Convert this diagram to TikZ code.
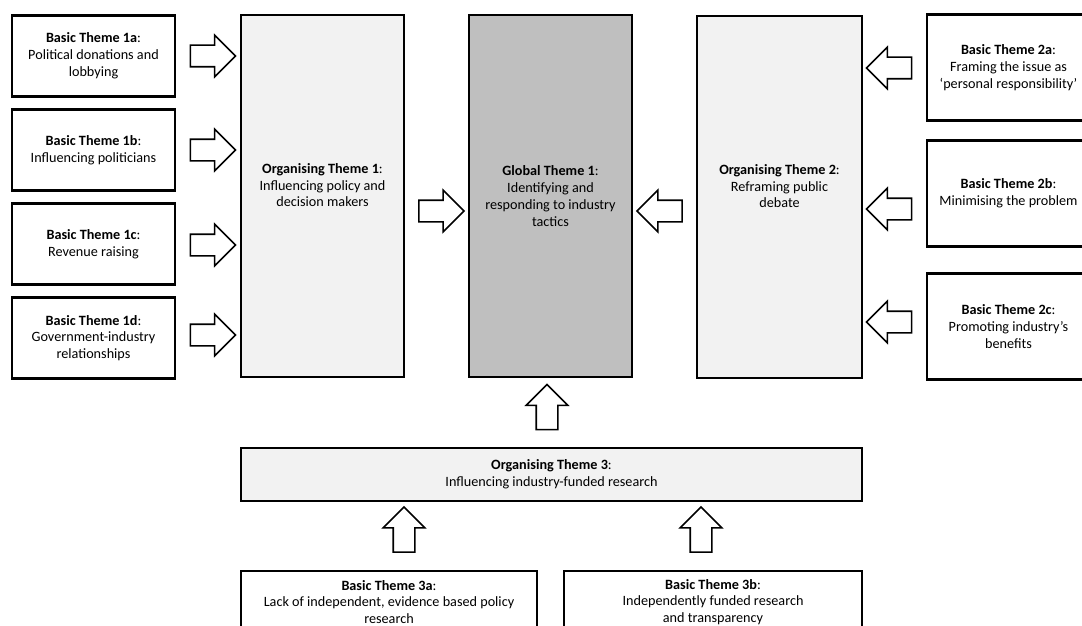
\documentclass[tikz,border=0pt]{standalone}
\usepackage{fontspec}
\setmainfont{Carlito}
\usepackage{xcolor}
\usetikzlibrary{shapes.arrows}

\definecolor{orgfill}{HTML}{F2F2F2}
\definecolor{globalfill}{HTML}{BFBFBF}

\begin{document}
\begin{tikzpicture}[
  x=1pt, y=1pt,
  themebox/.style={draw, line width=2.2pt, align=center, inner sep=2pt,
    font=\fontsize{14.2}{16.8}\selectfont},
  basicbox/.style={themebox, minimum width=163pt, minimum height=81pt},
  ]
  \tikzset{%
    orgbox/.style={
      themebox,
      fill=orgfill,
      minimum width=163pt,
      minimum height=362pt,
    },
    globalbox/.style={
      orgbox,
      fill=globalfill,
    },
    bigarrow/.style={
      draw, line width=1.6pt, fill=white,
      shape=single arrow,
      single arrow head extend=10pt,
      single arrow tip angle=90,
      inner sep=10pt,
      minimum height=45pt,
    },
  }
  \useasboundingbox (0,0) rectangle (1082,-626);
  %Nodes
  \node[basicbox](b1a) at (93.5,-56) {\textbf{Basic Theme 1a}:\\Political donations and\\lobbying};
  \node[basicbox](b1b) at (93.5,-150) {\textbf{Basic Theme 1b}:\\Influencing politicians};
  \node[basicbox](b1c) at (93.5,-244) {\textbf{Basic Theme 1c}:\\Revenue raising};
  \node[basicbox](b1d) at (93.5,-338) {\textbf{Basic Theme 1d}:\\Government-industry\\relationships};
  % a trailing strut lifts the text a little, as in the reference
  \node[orgbox](o1) at (322.5,-196) {\textbf{Organising Theme 1}:\\Influencing policy and\\decision makers\\\strut};
  \node[globalbox](g1) at (550.5,-196) {\textbf{Global Theme 1}:\\Identifying and\\responding to industry\\tactics};
  \node[orgbox, minimum width=165pt](o2) at (779.5,-197) {\textbf{Organising Theme 2}:\\Reframing public\\debate\\\strut};
  \node[basicbox, minimum height=106pt](b2a) at (1008.5,-67.5) {\textbf{Basic Theme 2a}:\\Framing the issue as\\‘personal responsibility’};
  \node[basicbox, minimum height=106pt](b2b) at (1008.5,-193.5) {\textbf{Basic Theme 2b}:\\Minimising the problem};
  \node[basicbox, minimum height=106pt](b2c) at (1008.5,-326.5) {\textbf{Basic Theme 2c}:\\Promoting industry’s\\benefits};
  \node[themebox, fill=orgfill, minimum width=621pt, minimum height=53pt](o3) at (551.5,-474.5) {\textbf{Organising Theme 3}:\\Influencing industry-funded research};
  \node[themebox, minimum width=296pt, minimum height=62pt](b3a) at (389,-602) {\textbf{Basic Theme 3a}:\\Lack of independent, evidence based policy\\research};
  \node[themebox, minimum width=298pt, minimum height=62pt](b3b) at (713,-602) {\textbf{Basic Theme 3b}:\\Independently funded research\\and transparency};
  %Arrows
  \foreach \y [count=\i] in {56,150,245,335}
    \node[bigarrow](a1\i) at (207.5,-\y) {};
  \node[bigarrow](ao1) at (436,-211) {};
  \node[bigarrow, shape border rotate=180](ao2) at (665,-211) {};
  \foreach \y [count=\i] in {68,209,322}
    \node[bigarrow, shape border rotate=180](a2\i) at (894.5,-\y) {};
  \node[bigarrow, shape border rotate=90](ao3) at (547,-412.5) {};
  \node[bigarrow, shape border rotate=90](a3a) at (404,-535) {};
  \node[bigarrow, shape border rotate=90](a3b) at (701,-535) {};
\end{tikzpicture}
\end{document}
